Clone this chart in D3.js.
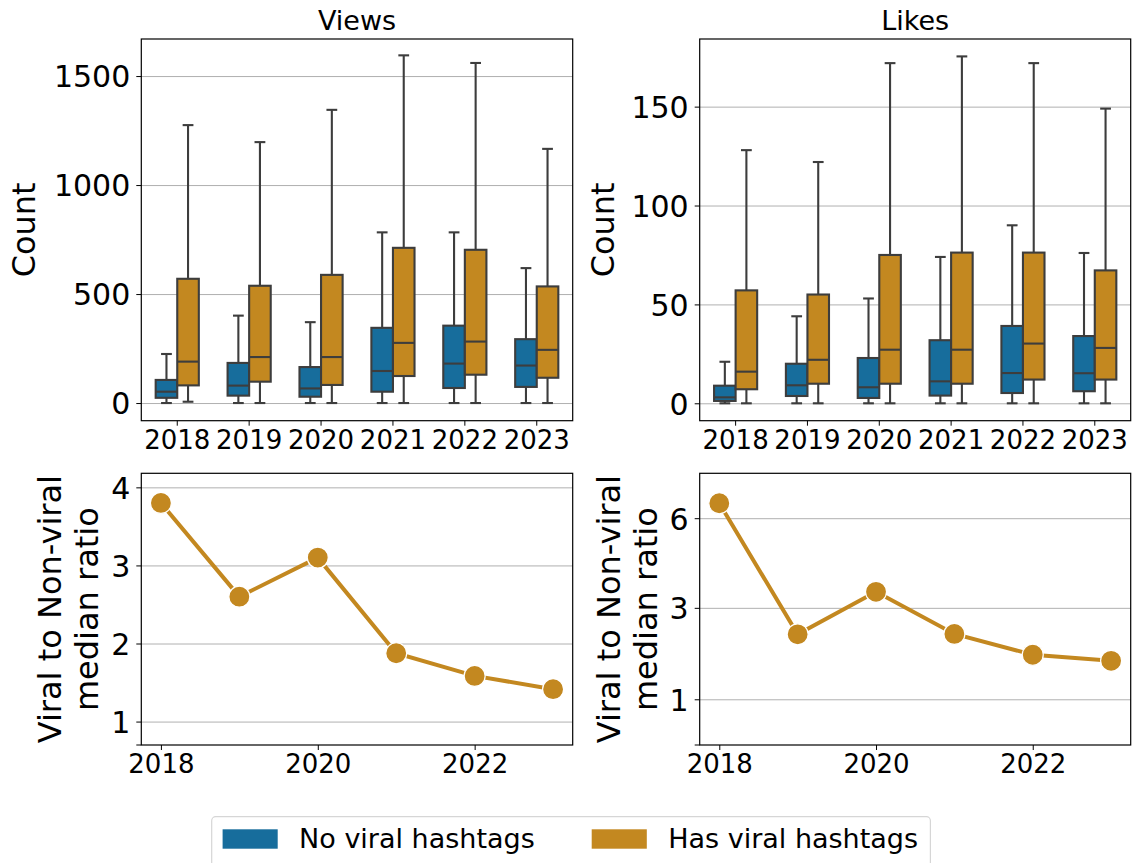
<!DOCTYPE html>
<html lang="en">
<head>
<meta charset="utf-8">
<script src="https://d3js.org/d3.v7.min.js"></script>
<style type="text/css">
body {
  margin: 0;
  background-color: #ffffff;
}
svg text { font-family: "DejaVu Sans", sans-serif; }
.grid line { stroke: #b0b0b0; stroke-width: 1; }
.grid path { display: none; }
.axis path { display: none; }
.axis line { stroke: #000; stroke-width: 1; }
</style>
</head>
<body>
<script type="text/javascript">

// years on the x axis
var years = ["2018", "2019", "2020", "2021", "2022", "2023"];
var lineYears = [2018, 2019, 2020, 2021, 2022, 2023];

// box stats per year: [lower whisker, q1, median, q3, upper whisker]
var viewsNoViral = [[0, 24, 52, 106, 225], [0, 34, 80, 184, 401], [0, 29, 67, 165, 371],
                    [0, 52, 147, 345, 783], [0, 69, 181, 355, 783], [0, 74, 172, 293, 619]];
var viewsViral = [[6, 81, 190, 570, 1275], [0, 98, 211, 538, 1197], [0, 83, 211, 588, 1345],
                  [0, 124, 276, 712, 1595], [0, 130, 282, 703, 1560], [0, 116, 244, 535, 1166]];
var likesNoViral = [[0, 1.2, 3, 8.9, 21], [0, 3.7, 9.1, 20, 44], [0, 2.7, 8.1, 22.9, 53],
                    [0, 3.9, 11.1, 31.9, 74], [0, 5.2, 15.3, 39.1, 90], [0, 6.1, 15.2, 34, 76]];
var likesViral = [[0, 7.1, 16, 57.1, 128], [0, 9.9, 22, 55, 122], [0, 9.9, 27.1, 75, 172],
                  [0, 9.9, 27.1, 76.2, 175.4], [0, 12, 30.2, 76.2, 172], [0, 12, 28, 67.2, 149]];

// viral to non-viral median ratio
var viewsRatio = [3.80, 2.60, 3.10, 1.875, 1.585, 1.415];
var likesRatio = [6.60, 2.31, 3.46, 2.32, 1.84, 1.71];

// tick values
var viewsTicks = [0, 500, 1000, 1500];
var likesTicks = [0, 50, 100, 150];
var viewsRatioTicks = [1, 2, 3, 4];
var likesRatioTicks = [1, 3, 6];
var lineXTicks = [2018, 2020, 2022];

var groups = ["No viral hashtags", "Has viral hashtags"];
var colors = ["#176d9c", "#c38820"];
var edge = "#3d3d3d";

var width = 1135, height = 863;
var leftX = [141.3, 572.7], rightX = [699.7, 1130.7];
var topY = [39, 420.7], botY = [473.3, 745];

var svg = d3.select("body").append("svg")
  .attr("width", width)
  .attr("height", height);

function yGrid(g, y, ticks, xr) {
  g.append("g").attr("class", "grid")
    .attr("transform", "translate(" + xr[0] + ",0)")
    .call(d3.axisLeft(y).tickValues(ticks).tickSize(-(xr[1] - xr[0])).tickFormat(""));
}

function yAxis(g, y, ticks, xr, fmt) {
  var a = g.append("g").attr("class", "axis")
    .attr("transform", "translate(" + xr[0] + ",0)")
    .call(d3.axisLeft(y).tickValues(ticks).tickSize(5).tickPadding(6).tickFormat(fmt || d3.format("d")));
  a.attr("font-family", null);
  a.selectAll("text").style("font-size", "30px").attr("fill", "#000").attr("dy", "0.36em");
}

function xAxis(g, x, ticks, yr, fmt) {
  var a = g.append("g").attr("class", "axis")
    .attr("transform", "translate(0," + yr[1] + ")")
    .call(d3.axisBottom(x).tickValues(ticks).tickSize(5).tickPadding(5).tickFormat(fmt || null));
  a.attr("font-family", null);
  a.selectAll("text").style("font-size", "26px").attr("fill", "#000");
}

function frame(g, xr, yr) {
  g.append("rect")
    .attr("x", xr[0]).attr("y", yr[0])
    .attr("width", xr[1] - xr[0]).attr("height", yr[1] - yr[0])
    .attr("fill", "none").attr("stroke", "#000").attr("stroke-width", 1.2);
}

function yLabel(g, lines, x, yr) {
  var t = g.append("text")
    .attr("transform", "translate(" + x + "," + ((yr[0] + yr[1]) / 2) + ") rotate(-90)")
    .attr("text-anchor", "middle")
    .style("font-size", "32px");
  lines.forEach(function(s, i) {
    t.append("tspan").attr("x", 0).attr("dy", i === 0 ? -(lines.length - 1) * 37 + "px" : "37px").text(s);
  });
}

function boxPanel(xr, title, noViral, viral, domain, ticks, labelX) {
  var g = svg.append("g");
  var x = d3.scaleBand().domain(years).range(xr);
  var y = d3.scaleLinear().domain(domain).range([topY[1], topY[0]]);
  var bw = x.bandwidth() * 0.3;

  yGrid(g, y, ticks, xr);

  [noViral, viral].forEach(function(data, k) {
    var gg = g.append("g");
    years.forEach(function(yr, i) {
      var s = data[i];
      var x0 = x(yr) + x.bandwidth() / 2 + (k === 0 ? -bw : 0);
      var xc = x0 + bw / 2;
      var b = gg.append("g").attr("stroke", edge).attr("stroke-width", 2.1);
      b.append("line").attr("x1", xc).attr("x2", xc).attr("y1", y(s[0])).attr("y2", y(s[1]));
      b.append("line").attr("x1", xc).attr("x2", xc).attr("y1", y(s[3])).attr("y2", y(s[4]));
      b.append("line").attr("x1", xc - bw / 4).attr("x2", xc + bw / 4).attr("y1", y(s[0])).attr("y2", y(s[0]));
      b.append("line").attr("x1", xc - bw / 4).attr("x2", xc + bw / 4).attr("y1", y(s[4])).attr("y2", y(s[4]));
      b.append("rect").attr("x", x0).attr("width", bw)
        .attr("y", y(s[3])).attr("height", y(s[1]) - y(s[3]))
        .attr("fill", colors[k]);
      b.append("line").attr("x1", x0).attr("x2", x0 + bw).attr("y1", y(s[2])).attr("y2", y(s[2]));
    });
  });

  yAxis(g, y, ticks, xr);
  xAxis(g, x, years, topY);
  frame(g, xr, topY);
  yLabel(g, ["Count"], labelX, topY);

  g.append("text")
    .attr("x", (xr[0] + xr[1]) / 2).attr("y", 29.5)
    .attr("text-anchor", "middle")
    .style("font-size", "27px")
    .text(title);
}

function linePanel(xr, ratio, y, ticks, labelX) {
  var g = svg.append("g");
  var x = d3.scaleLinear().domain([2017.75, 2023.25]).range(xr);

  yGrid(g, y, ticks, xr);

  var line = d3.line()
    .x(function(d, i) { return x(lineYears[i]); })
    .y(function(d) { return y(d); });

  g.append("path").datum(ratio)
    .attr("d", line)
    .attr("fill", "none")
    .attr("stroke", colors[1])
    .attr("stroke-width", 4);

  g.selectAll("circle").data(ratio).enter().append("circle")
    .attr("cx", function(d, i) { return x(lineYears[i]); })
    .attr("cy", function(d) { return y(d); })
    .attr("r", 10.5)
    .attr("fill", colors[1])
    .attr("stroke", "#fff")
    .attr("stroke-width", 1.2);

  yAxis(g, y, ticks, xr);
  // unlabeled tick at the bottom of the y axis
  g.append("line").attr("x1", xr[0] - 5).attr("x2", xr[0])
    .attr("y1", botY[1]).attr("y2", botY[1]).attr("stroke", "#000");
  xAxis(g, x, lineXTicks, botY, d3.format("d"));
  frame(g, xr, botY);
  yLabel(g, ["Viral to Non-viral", "median ratio"], labelX, botY);
}

boxPanel(leftX, "Views", viewsNoViral, viewsViral, [-81, 1670], viewsTicks, 35);
boxPanel(rightX, "Likes", likesNoViral, likesViral, [-8.8, 184.2], likesTicks, 614);

var yViewsRatio = d3.scaleLinear().domain([0.70, 4.18]).range([botY[1], botY[0]]);
var yLikesRatio = d3.scaleSqrt().domain([0.402, 7.89]).range([botY[1], botY[0]]);
linePanel(leftX, viewsRatio, yViewsRatio, viewsRatioTicks, 98.3);
linePanel(rightX, likesRatio, yLikesRatio, likesRatioTicks, 656.7);

// legend
var lg = svg.append("g");
lg.append("rect")
  .attr("x", 211.7).attr("y", 816.7)
  .attr("width", 718.7).attr("height", 70)
  .attr("rx", 4)
  .attr("fill", "#fff")
  .attr("stroke", "#d6d6d6")
  .attr("stroke-width", 1.2);
var legendX = [222.6, 591.7];
groups.forEach(function(name, i) {
  lg.append("rect")
    .attr("x", legendX[i]).attr("y", 829.3)
    .attr("width", 55.1).attr("height", 19.4)
    .attr("fill", colors[i]);
  lg.append("text")
    .attr("x", legendX[i] + 76.5).attr("y", 848.3)
    .style("font-size", "27px")
    .text(name);
});
</script>
</body>
</html>
